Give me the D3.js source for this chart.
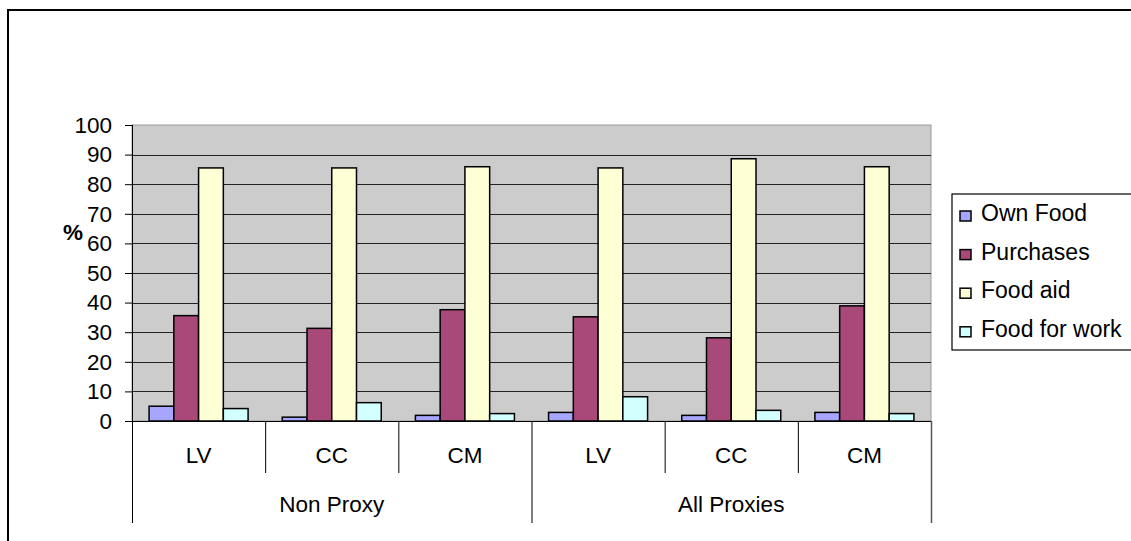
<!DOCTYPE html>
<html>
<head>
<meta charset="utf-8">
<script src="https://cdn.jsdelivr.net/npm/d3@7/dist/d3.min.js"></script>
<style>
  html, body { margin: 0; padding: 0; background: #fff; }
  svg { display: block; }
  text { font-family: "Liberation Sans", Arial, sans-serif; fill: #000; }
</style>
</head>
<body>
<script>
// Food source shares (%) by site, for two proxy groupings
const groups = ["Non Proxy", "All Proxies"];
const sites = ["LV", "CC", "CM"];
const seriesNames = ["Own Food", "Purchases", "Food aid", "Food for work"];
const ownFood     = [5.0, 1.3, 1.9, 2.9, 1.9, 2.9];
const purchases   = [35.6, 31.3, 37.6, 35.2, 28.1, 38.9];
const foodAid     = [85.5, 85.5, 85.9, 85.5, 88.6, 85.9];
const foodForWork = [4.2, 6.2, 2.5, 8.2, 3.6, 2.5];
const yTicks = [0, 10, 20, 30, 40, 50, 60, 70, 80, 90, 100];
const colors = ["#a6a6ff", "#a8497a", "#ffffd6", "#d2ffff"];

const W = 1131, H = 541;
const plot = { left: 132, right: 931, top: 125, bottom: 421 };
const FONT = 22.5;
const LEGEND_FONT = 23;

const svg = d3.select("body").append("svg").attr("width", W).attr("height", H);

// chart frame (runs past the right and bottom edges)
svg.append("rect").attr("x", 8).attr("y", 10).attr("width", W).attr("height", H)
  .attr("fill", "#fff").attr("stroke", "#000").attr("stroke-width", 2);

// category keys: one per group/site pair
const cats = [];
groups.forEach(g => sites.forEach(s => cats.push(g + "|" + s)));
const rows = cats.map((c, i) => ({
  key: c, site: c.split("|")[1],
  values: [ownFood[i], purchases[i], foodAid[i], foodForWork[i]]
}));

const x = d3.scaleBand().domain(cats).range([plot.left, plot.right]).padding(0);
const y = d3.scaleLinear().domain([0, 100]).range([plot.bottom, plot.top]);
const gapRatio = 1.38;
const barW = x.bandwidth() / (seriesNames.length + gapRatio);
const inner = d3.scaleBand().domain(seriesNames)
  .range([(x.bandwidth() - barW * seriesNames.length) / 2,
          (x.bandwidth() + barW * seriesNames.length) / 2]);

// plot background
svg.append("rect")
  .attr("x", plot.left).attr("y", plot.top)
  .attr("width", plot.right - plot.left).attr("height", plot.bottom - plot.top)
  .attr("fill", "#cccccc").attr("stroke", "#9a9a9a").attr("stroke-width", 1);

// horizontal gridlines
svg.append("g").selectAll("line").data(yTicks.filter(t => t > 0 && t < 100)).join("line")
  .attr("x1", plot.left).attr("x2", plot.right)
  .attr("y1", d => Math.round(y(d)) + 0.5).attr("y2", d => Math.round(y(d)) + 0.5)
  .attr("stroke", "#222").attr("stroke-width", 1);

// bars
const gBars = svg.append("g");
rows.forEach(r => {
  gBars.append("g").attr("transform", `translate(${x(r.key)},0)`)
    .selectAll("rect").data(r.values.map((v, j) => ({ v, s: seriesNames[j], j }))).join("rect")
    .attr("x", d => inner(d.s))
    .attr("width", inner.bandwidth())
    .attr("y", d => y(d.v))
    .attr("height", d => y(0) - y(d.v))
    .attr("fill", d => colors[d.j])
    .attr("stroke", "#000").attr("stroke-width", 1.5);
});

// y axis
const yAxis = d3.axisLeft(y).tickValues(yTicks).tickSize(7).tickPadding(13).tickSizeOuter(0);
const gy = svg.append("g").attr("transform", `translate(${plot.left},0)`).call(yAxis);
gy.select(".domain").remove();
gy.selectAll(".tick line").attr("stroke", "#000");
gy.selectAll(".tick text").attr("font-size", FONT).attr("font-family", "Liberation Sans, Arial, sans-serif").attr("fill", "#000");
svg.append("line").attr("x1", plot.left + 0.5).attr("x2", plot.left + 0.5)
  .attr("y1", plot.top).attr("y2", 523).attr("stroke", "#000").attr("stroke-width", 1);

// y axis title
svg.append("text").attr("x", 73).attr("y", 240).attr("text-anchor", "middle")
  .attr("font-size", FONT).attr("font-weight", "bold").text("%");

// category axis baseline
svg.append("line").attr("x1", plot.left).attr("x2", plot.right)
  .attr("y1", plot.bottom + 0.5).attr("y2", plot.bottom + 0.5)
  .attr("stroke", "#000").attr("stroke-width", 1);

// dividers between sites and between groups
const gx = svg.append("g");
cats.forEach((c, i) => {
  if (i === 0) return;
  const isGroupEdge = i % sites.length === 0;
  gx.append("line")
    .attr("x1", x(c) + 0.5).attr("x2", x(c) + 0.5)
    .attr("y1", plot.bottom).attr("y2", isGroupEdge ? 523 : 473)
    .attr("stroke", "#000").attr("stroke-width", 1);
});
gx.append("line").attr("x1", plot.right + 0.5).attr("x2", plot.right + 0.5)
  .attr("y1", plot.bottom).attr("y2", 523).attr("stroke", "#555").attr("stroke-width", 1.5);

// site labels
gx.selectAll("text.site").data(rows).join("text").attr("class", "site")
  .attr("x", d => x(d.key) + x.bandwidth() / 2).attr("y", 463)
  .attr("text-anchor", "middle").attr("font-size", FONT).text(d => d.site);

// group labels
gx.selectAll("text.grp").data(groups).join("text").attr("class", "grp")
  .attr("x", (g, i) => {
    const a = x(cats[i * sites.length]);
    const b = x(cats[i * sites.length + sites.length - 1]) + x.bandwidth();
    return (a + b) / 2;
  })
  .attr("y", 512).attr("text-anchor", "middle").attr("font-size", FONT).text(d => d);

// legend
const lg = svg.append("g");
lg.append("rect").attr("x", 952).attr("y", 194).attr("width", 220).attr("height", 156)
  .attr("fill", "#fff").attr("stroke", "#000").attr("stroke-width", 1.2);
seriesNames.forEach((s, i) => {
  const base = 221 + i * 38.6;
  lg.append("rect").attr("x", 960).attr("y", base - 10).attr("width", 11).attr("height", 10)
    .attr("fill", colors[i]).attr("stroke", "#000").attr("stroke-width", 1.5);
  lg.append("text").attr("x", 981).attr("y", base).attr("font-size", LEGEND_FONT).text(s);
});
</script>
</body>
</html>
